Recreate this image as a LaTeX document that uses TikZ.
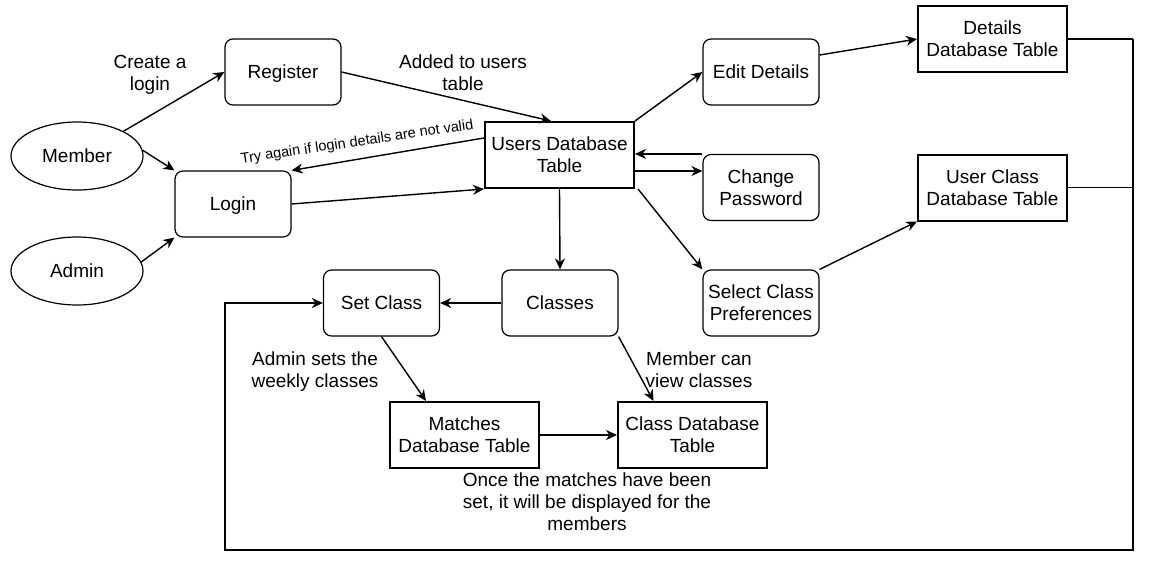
\documentclass[tikz,border=0pt]{standalone}
\usepackage{fontspec}
\setmainfont{Liberation Sans}
\usetikzlibrary{arrows.meta,shapes.geometric,calc}
\begin{document}
\begin{tikzpicture}[x=1pt,y=-1pt,
  every node/.style={font=\fontsize{19}{22}\selectfont, inner sep=0pt, align=center, text depth=0pt},
  procbox/.style={draw, rounded corners=8pt, line width=1.2pt, minimum width=116pt, minimum height=66pt},
  dbbox/.style={draw, line width=2pt, minimum width=149pt, minimum height=66pt},
  actor/.style={draw, ellipse, line width=1.2pt, minimum width=132pt, minimum height=68pt},
  conn/.style={line width=1.4pt, -{Stealth[length=11pt,width=10pt,inset=3.5pt]}},
  plain/.style={line width=1.4pt},
  lbl/.style={}
]
\useasboundingbox[fill=white] (0,0) rectangle (1153,574);

% actors
\node[actor] (member) at (77,156) {Member};
\node[actor] (admin) at (77,271) {Admin};

% process boxes
\node[procbox] (register) at (283,72) {Register};
\node[procbox] (login) at (233,204) {Login};
\node[procbox] (edit) at (761,72) {Edit Details};
\node[procbox] (change) at (761,187.5) {Change\\Password};
\node[procbox] (classes) at (560,303) {Classes};
\node[procbox] (select) at (761,303) {Select Class\\Preferences};
\node[procbox] (setclass) at (381.5,303) {Set Class};

% database boxes
\node[dbbox] (users) at (559.5,155) {Users Database\\Table};
\node[dbbox] (details) at (992.5,39) {Details\\Database Table};
\node[dbbox] (userclass) at (992.5,187.5) {User Class\\Database Table};
\node[dbbox] (matches) at (464.5,435) {Matches\\Database Table};
\node[dbbox] (classdb) at (692.5,435) {Class Database\\Table};

% connectors
\draw[conn] (member.28) -- (register.west);
\draw[conn] (member.5) -- (login.north west);
\draw[conn] (admin.8) -- (login.south west);
\draw[conn] (register.east) -- ([xshift=-8.5pt]users.north);
\draw[conn] ([yshift=17pt]users.west) -- (login.north east);
\draw[conn] (login.east) -- (users.south west);
\draw[conn] (users.north east) -- (edit.west);
\draw[conn] ([yshift=17pt]edit.east) -- (details.west);
\draw[conn] (change.north west) -- (change.north west -| users.east);
\coordinate (ucp) at ([yshift=-16pt]users.east);
\draw[conn] (ucp) -- (ucp -| change.west);
\draw[conn] ([xshift=3pt]users.south east) -- (select.north west);
\draw[conn] (select.north east) -- (userclass.south west);
\draw[conn] (users.south) -- (classes.north);
\draw[conn] (classes.west) -- (setclass.east);
\draw[conn] (setclass.south) -- ([xshift=-38.5pt]matches.north);
\draw[conn] (classes.south east) -- ([xshift=-39pt]classdb.north);
\draw[conn] (matches.east) -- (classdb.west);

% loop back
\coordinate (rtop) at (1133,39);
\coordinate (rmid) at (1133,187.5);
\coordinate (rbot) at (1133,550);
\coordinate (lbot) at (225,550);
\coordinate (lmid) at (225,303);
\draw[plain] (details.east) -- (rtop);
\draw[plain] (userclass.east) -- (rmid);
\draw[conn] (rtop) -- (rbot) -- (lbot) -- (lmid) -- (setclass.west);

% labels
\node[lbl] (l1) at (150,73) {Create a\\login};
\node[lbl] (l2) at (463,73) {Added to users\\table};
\node[lbl, font=\fontsize{14.5}{17}\selectfont, rotate=8.5] (l3) at (357,141) {Try again if login details are not valid};
\node[lbl] (l4) at (315,370) {Admin sets the\\weekly classes};
\node[lbl] (l5) at (699,370) {Member can\\view classes};
\node[lbl] (l6) at (587,502) {Once the matches have been\\set, it will be displayed for the\\members};
\end{tikzpicture}
\end{document}
